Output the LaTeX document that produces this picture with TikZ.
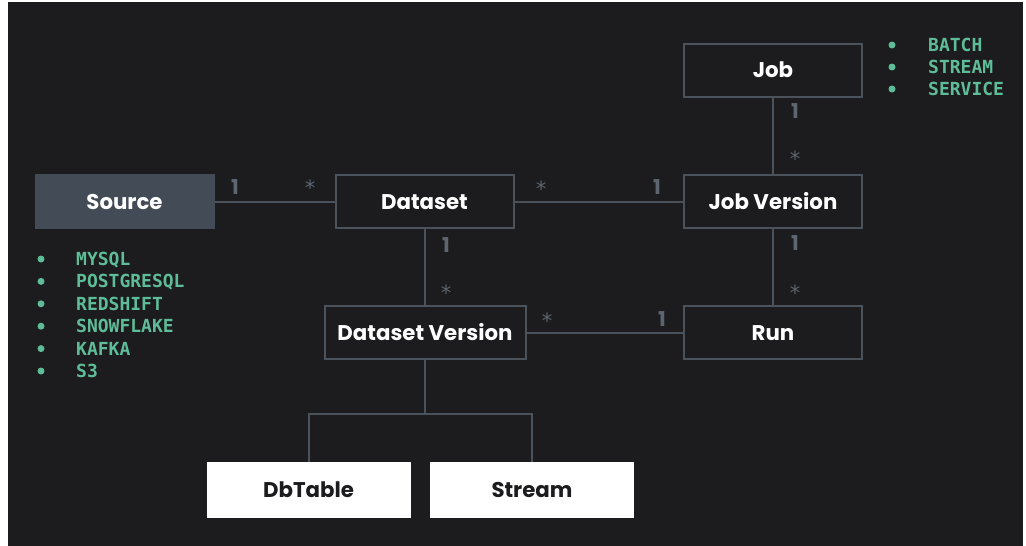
\documentclass[tikz,border=0pt]{standalone}
\usepackage{fontspec}
\setmainfont{Poppins}
\newfontfamily\boxfont{Poppins}
\newfontfamily\listfont{DejaVu Sans Mono}
\newfontfamily\starfont{DejaVu Sans}
\definecolor{bgdark}{HTML}{1C1C1E}
\definecolor{linegray}{HTML}{4A535C}
\definecolor{srcfill}{HTML}{434C56}
\definecolor{labgray}{HTML}{5C6570}
\definecolor{listgreen}{HTML}{5EBD98}
\definecolor{boxtext}{HTML}{1C1C1E}
\tikzset{
  entity/.style={draw=linegray, line width=2pt, fill=bgdark, text=white,
    minimum width=178pt, minimum height=53pt, inner sep=0pt,
    font=\boxfont\bfseries\fontsize{21.3}{21}\selectfont, text height=15pt, text depth=0pt},
  srcbox/.style={entity, draw=srcfill, fill=srcfill},
  leafbox/.style={entity, draw=white, fill=white, text=boxtext, minimum width=202pt, minimum height=54pt},
  conn/.style={draw=linegray, line width=2pt},
  mult/.style={text=labgray, font=\bfseries\fontsize{20.5}{20}\selectfont, inner sep=0pt, text height=14pt, text depth=0pt},
  star/.style={mult, font=\starfont\fontsize{21}{21}\selectfont},
  item/.style={text=listgreen, font=\listfont\fontsize{18}{18}\selectfont, anchor=base west, inner sep=0pt},
  dot/.style={circle, fill=listgreen, inner sep=0pt, minimum size=7pt},
}
\begin{document}
\begin{tikzpicture}[x=1pt, y=-1pt]
\useasboundingbox (0,0) rectangle (1026,546);
\fill[white] (0,0) rectangle (1026,546);
\fill[bgdark] (8,2) rectangle (1023,546);

% entities
\node[srcbox] (source) at (124.5,201.5) {Source};
\node[entity] (dataset) at (424.5,201.5) {Dataset};
\node[entity] (jobversion) at (773,201.5) {Job Version};
\node[entity] (job) at (773,70) {Job};
\node[entity, minimum width=201pt] (dv) at (425,332.5) {Dataset Version};
\node[entity] (run) at (773,332.5) {Run};
\node[leafbox] (dbtable) at (308.5,490) {DbTable};
\node[leafbox] (stream) at (532,490) {Stream};

% connectors
\draw[conn] (source.east) -- (dataset.west);
\draw[conn] (dataset.east) -- (jobversion.west);
\draw[conn] (job.south) -- (jobversion.north);
\draw[conn] (dataset.south) -- (dataset.south |- dv.north);
\draw[conn] (dv.east) -- (run.west);
\draw[conn] (jobversion.south) -- (run.north);
\coordinate (split) at (425,414);
\draw[conn] (dv.south) -- (dv.south |- split);
\draw[conn] (dbtable.north) |- (split) -| (stream.north);

% multiplicities
\node[mult] (m1) at (235,187) {1};
\node[star] (m2) at (310,188) {*};
\node[star] (m3) at (541,189) {*};
\node[mult] (m4) at (657,187) {1};
\node[mult] (m5) at (446,245) {1};
\node[star] (m6) at (446,293) {*};
\node[star] (m7) at (547,321) {*};
\node[mult] (m8) at (662,319) {1};
\node[mult] (m9) at (795,111) {1};
\node[star] (m10) at (795,159) {*};
\node[mult] (m11) at (795,243) {1};
\node[star] (m12) at (795,293) {*};

% source list
\foreach \t [count=\i] in {MYSQL,POSTGRESQL,REDSHIFT,SNOWFLAKE,KAFKA,S3} {
  \node[dot] (sd\i) at (41,{259+22.4*(\i-1)}) {};
  \node[item] (si\i) at (76,{265.5+22.4*(\i-1)}) {\bfseries\t};
}
% job list
\foreach \t [count=\i] in {BATCH,STREAM,SERVICE} {
  \node[dot] (jd\i) at (892,{45+22*(\i-1)}) {};
  \node[item] (ji\i) at (928,{51.5+22*(\i-1)}) {\bfseries\t};
}
\end{tikzpicture}
\end{document}
